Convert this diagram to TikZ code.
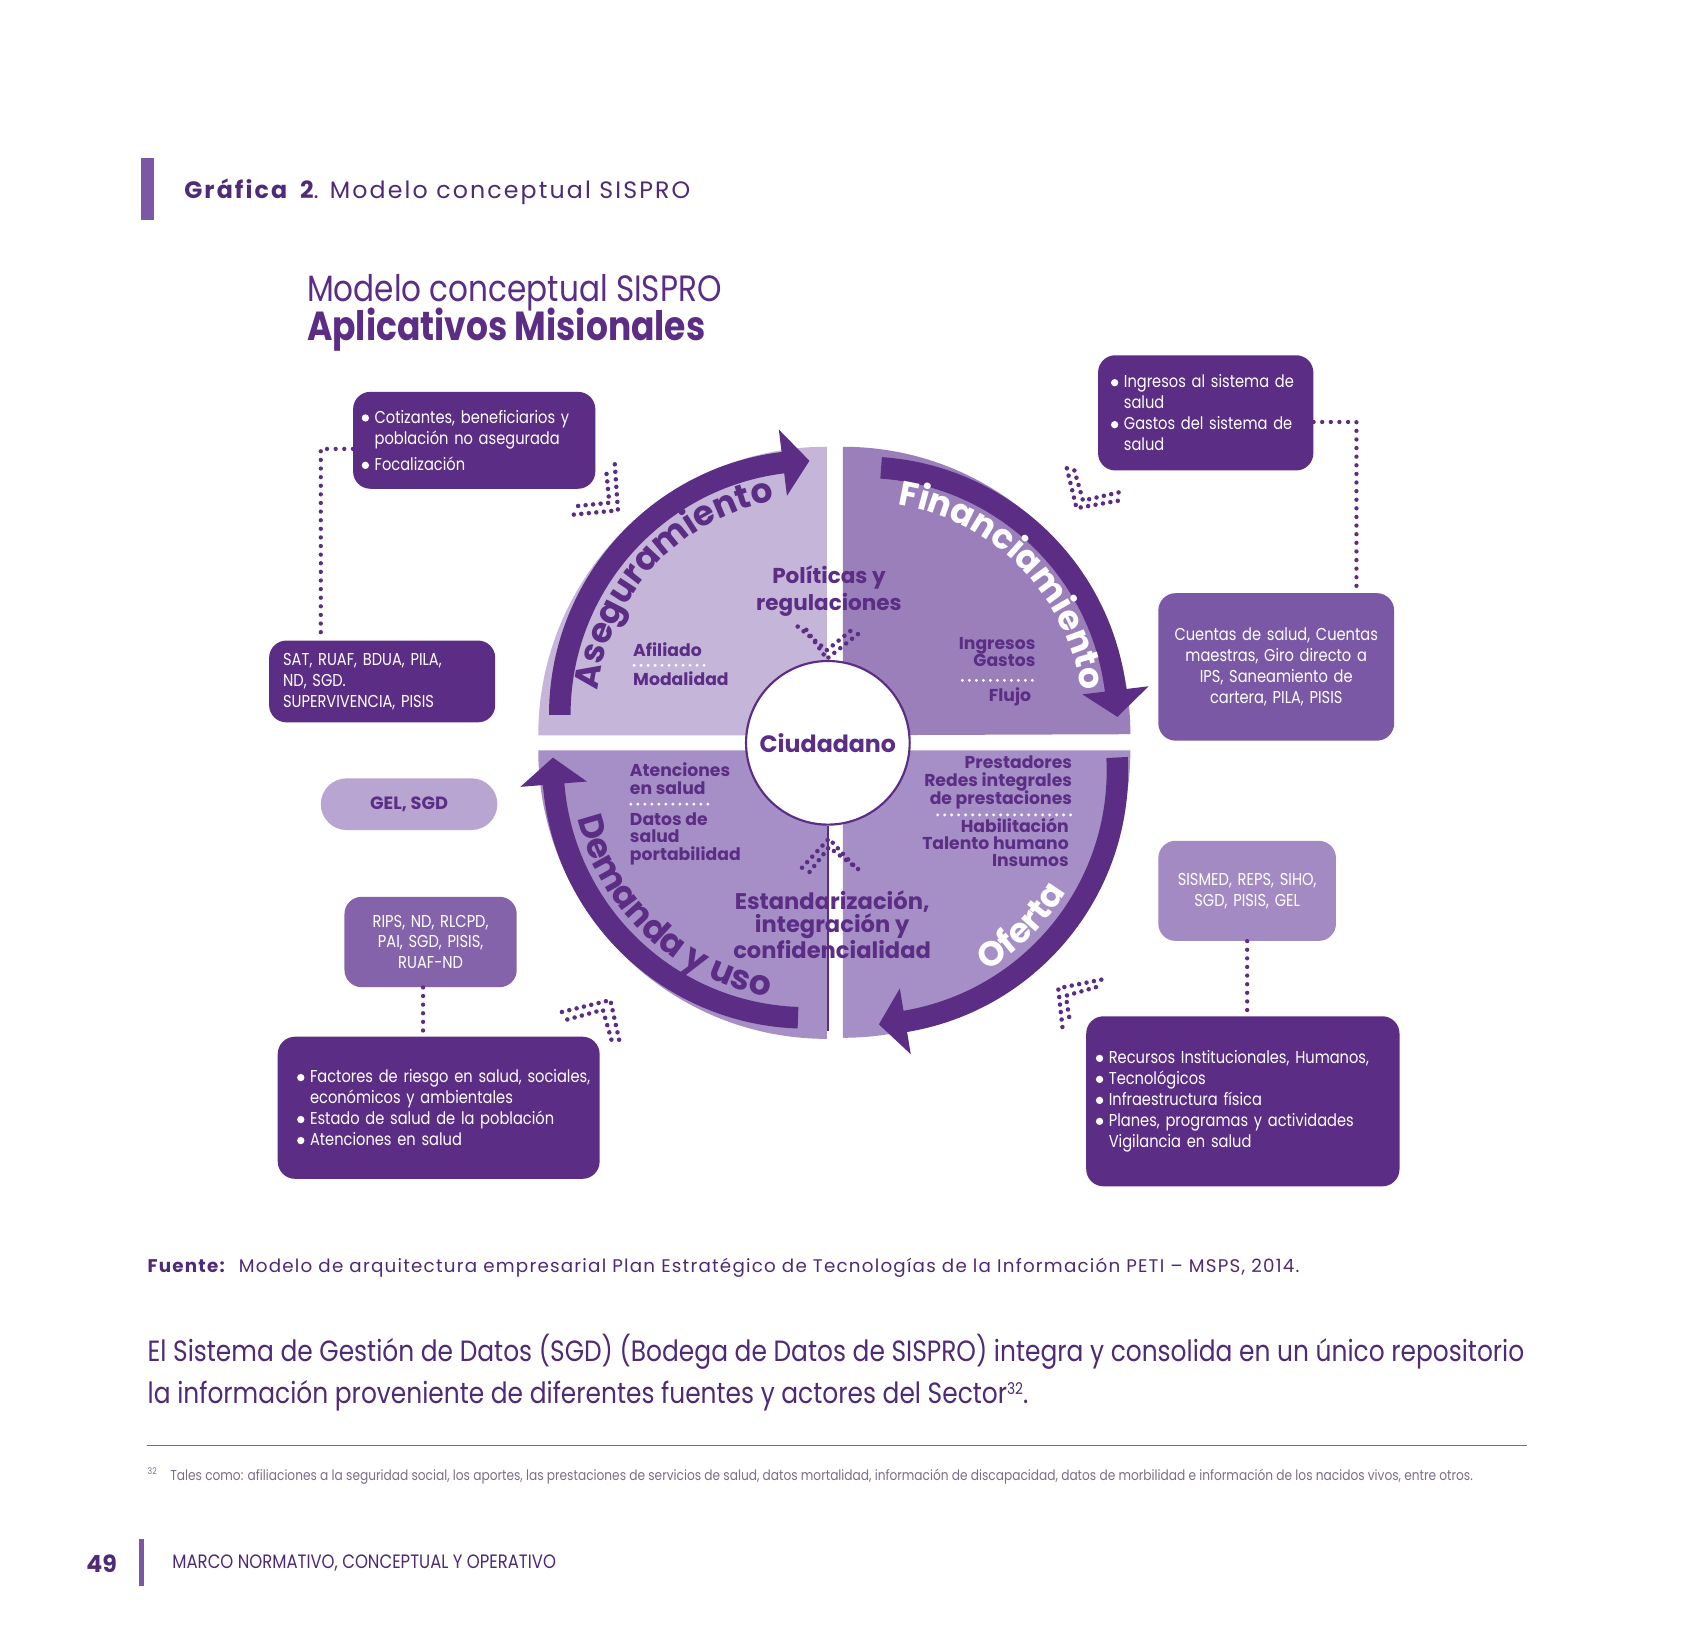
\documentclass[tikz,border=0pt]{standalone}
\usepackage{fontspec}
\setmainfont{Poppins}
\newfontfamily\cf[FakeStretch=0.85]{Poppins}
\usetikzlibrary{decorations.text}
\definecolor{dp}{HTML}{5B2D84}
\definecolor{qa}{HTML}{C4B5D9}
\definecolor{qb}{HTML}{9A7FBB}
\definecolor{qc}{HTML}{A68FC6}
\definecolor{mbox}{HTML}{7A58A5}
\definecolor{rbox}{HTML}{8563AB}
\definecolor{sbox}{HTML}{A48AC3}
\definecolor{gbox}{HTML}{B8A5D2}
\definecolor{barc}{HTML}{7B57A5}
\definecolor{tx}{HTML}{4E2A77}
\definecolor{grx}{HTML}{7A6E86}
\newcommand\bul{\makebox[12pt][l]{\tikz[baseline=0pt]\fill[white] (3.4pt,4.8pt) circle (3.4pt);}}
\newcommand\hind{\hspace*{12pt}}
% #1 x, #2 y, #3 tail angle, #4 head base angle, #5 tip angle
\newcommand\arcarrow[5]{%
  \fill[dp] ([shift={(#1,#2)}]#3:246) arc[start angle=#3, end angle=#4, radius=246]
    -- ([shift={(#1,#2)}]#4:267) -- ([shift={(#1,#2)}]#5:236) -- ([shift={(#1,#2)}]#4:205)
    -- ([shift={(#1,#2)}]#4:226) arc[start angle=#4, end angle=#3, radius=226] -- cycle;}
\tikzset{
  box/.style={rounded corners=16pt, text=white, inner sep=0pt,
    font=\cf\fontsize{16}{19.5}\selectfont},
  dbox/.style={box, fill=dp},
  dotc/.style={draw=dp, line width=4pt, line cap=round, dash pattern=on 0pt off 8pt},
  chv/.style={draw=dp, line width=4.2pt, line cap=round, dash pattern=on 0pt off 7pt},
  wsep/.style={draw=white, line width=3pt, line cap=round, dash pattern=on 0pt off 6.5pt},
  ql/.style={inner sep=0pt, text=dp, font=\bfseries\fontsize{16}{16.5}\selectfont},
  lbl/.style={inner sep=0pt, anchor=base west}
}
\begin{document}
\begin{tikzpicture}[x=1pt,y=1pt]
\useasboundingbox (0,0) rectangle (1568,-1521);
\fill[white] (0,0) rectangle (1568,-1521);

% ---- heading
\fill[barc] (131,-147) rectangle (143,-204);
\node[lbl, text=tx] (head) at (171,-184) {\fontsize{22}{22}\selectfont\addfontfeature{LetterSpace=9}\textbf{Gráfica}\hspace{10pt}\textbf{2}. Modelo conceptual SISPRO};
\node[lbl, text=dp] (sub1) at (285,-280) {\cf\fontsize{34}{34}\selectfont Modelo conceptual SISPRO};
\node[lbl, text=dp] (sub2) at (285,-316) {\cf\bfseries\fontsize{37.7}{37.7}\selectfont Aplicativos Misionales};

% ---- quadrants
\fill[qa] (768,-683) -- ++(-268,0) arc[start angle=180, end angle=90, radius=268] -- cycle;
\fill[qb] (783,-683) -- ++(0,268) arc[start angle=90, end angle=0, radius=267] -- cycle;
\fill[qc] (768,-697) -- ++(0,-268) arc[start angle=270, end angle=180, radius=268] -- cycle;
\fill[qc] (783,-697) -- ++(267,0) arc[start angle=0, end angle=-90, radius=267] -- cycle;

% ---- arrows
\arcarrow{756}{-664}{180}{97}{91}
\arcarrow{802}{-670}{86}{7}{1}
\arcarrow{802}{-716}{3}{-80.5}{-86.5}
\arcarrow{749.5}{-709.5}{268}{184.6}{178.6}

% ---- arc texts
\path[decorate, decoration={text along path, text align=center,
  text={|\bfseries\fontsize{32}{32}\selectfont\color{dp}|Aseguramiento}}]
  ([shift={(756,-664)}]190:202) arc[start angle=190, end angle=84, radius=202];
\path[decorate, decoration={text along path, text align=center,
  text={|\bfseries\fontsize{32}{32}\selectfont\color{white}|Financiamiento}}]
  ([shift={(802,-670)}]99:204) arc[start angle=99, end angle=-10, radius=204];
\path[decorate, decoration={text along path, text align=center,
  text={|\bfseries\fontsize{32}{32}\selectfont\color{white}|Oferta}}]
  ([shift={(802,-716)}]-104:219) arc[start angle=-104, end angle=15, radius=219];
\path[decorate, decoration={text along path, text align=center,
  text={|\bfseries\fontsize{32}{32}\selectfont\color{dp}|Demanda y uso}}]
  ([shift={(749.5,-709.5)}]165:219) arc[start angle=165, end angle=289, radius=219];

% ---- center
\node[circle, draw=dp, line width=2pt, fill=white, minimum size=152pt, inner sep=0pt,
  text=dp, font=\bfseries\fontsize{22}{22}\selectfont] (ciu) at (769,-690) {Ciudadano};
\coordinate (lineend) at (769,-958);
\draw[dp, line width=2pt] (ciu.south) -- (lineend);

% ---- inner labels
\node[ql, align=center, font=\bfseries\fontsize{20}{25}\selectfont] (pol) at (770,-549) {Políticas y\\regulaciones};
\node[ql, anchor=base west] (afi) at (588,-610) {Afiliado};
\node[ql, anchor=base west] (mod) at (588,-637) {Modalidad};
\node[ql, anchor=base east] (ing) at (962,-603) {Ingresos};
\node[ql, anchor=base east] (gas) at (962,-619) {Gastos};
\node[ql, anchor=base east] (flu) at (958,-652) {Flujo};
\node[ql, anchor=base west] (ate) at (585,-721) {Atenciones};
\node[ql, anchor=base west] (ens) at (585,-738) {en salud};
\node[ql, anchor=base west] (dat) at (585,-767) {Datos de};
\node[ql, anchor=base west] (sal) at (585,-783) {salud};
\node[ql, anchor=base west] (por) at (585,-799) {portabilidad};
\node[ql, anchor=base east] (pre) at (996,-714) {Prestadores};
\node[ql, anchor=base east] (red) at (996,-731) {Redes integrales};
\node[ql, anchor=base east] (dep) at (996,-747) {de prestaciones};
\node[ql, anchor=base east] (hab) at (993,-773) {Habilitación};
\node[ql, anchor=base east] (tal) at (993,-789) {Talento humano};
\node[ql, anchor=base east] (ins) at (993,-805) {Insumos};
\node[ql, align=center, font=\bfseries\fontsize{21}{21.5}\selectfont] (est) at (773,-859) {Estandarización,\\integración y\\confidencialidad};

% white separators
\draw[wsep] (589,-618) -- (655,-618);
\draw[wsep] (894,-632) -- (962,-632);
\draw[wsep] (586,-747) -- (660,-747);
\draw[wsep] (871,-757) -- (995,-757);

% inner chevrons
\draw[chv] (741,-582) -- (768,-604) -- (795,-582);
\draw[chv] (749,-585) -- (768,-612) -- (802,-585);
\draw[chv] (745,-806) -- (770,-779) -- (795,-806);
\draw[chv] (752,-810) -- (770,-787) -- (802,-811);

% outer chevrons
\draw[chv] (533,-478) -- (574,-474) -- (571,-430);
\draw[chv] (537,-470) -- (566,-467) -- (563,-436);
\draw[chv] (991,-435) -- (1000,-472) -- (1045,-464);
\draw[chv] (998,-437) -- (1006,-465) -- (1041,-457);
\draw[chv] (522,-940) -- (567,-929) -- (576,-970);
\draw[chv] (527,-947) -- (560,-938) -- (568,-966);
\draw[chv] (1023,-910) -- (983,-918) -- (987,-955);
\draw[chv] (1018,-917) -- (990,-925) -- (994,-950);

% ---- boxes
\node[dbox, minimum width=225pt, minimum height=90pt, text width=209pt, align=left] (b1) at (440.5,-409)
  {\bul Cotizantes, beneficiarios y\\\hind población no asegurada\\[5pt]\bul Focalización};
\node[dbox, minimum width=210pt, minimum height=76pt, text width=184pt, align=left] (b2) at (355,-633)
  {SAT, RUAF, BDUA, PILA,\\ND, SGD.\\SUPERVIVENCIA, PISIS};
\node[dbox, minimum width=200pt, minimum height=107pt, text width=176pt, align=left] (b3) at (1120,-383.5)
  {\bul Ingresos al sistema de\\\hind salud\\\bul Gastos del sistema de\\\hind salud};
\node[box, fill=mbox, minimum width=219pt, minimum height=137pt, text width=205pt, align=center] (b4) at (1185.5,-619.5)
  {Cuentas de salud, Cuentas\\maestras, Giro directo a\\IPS, Saneamiento de\\cartera, PILA, PISIS};
\node[box, fill=gbox, rounded corners=24pt, minimum width=164pt, minimum height=48pt, text=dp,
  font=\bfseries\fontsize{16.5}{16.5}\selectfont] (b5) at (380,-747) {GEL, SGD};
\node[box, fill=rbox, minimum width=160pt, minimum height=84pt, text width=150pt, align=center] (b6) at (400,-875)
  {RIPS, ND, RLCPD,\\PAI, SGD, PISIS,\\RUAF-ND};
\node[dbox, minimum width=299pt, minimum height=132pt, text width=263pt, align=left] (b7) at (407.5,-1029)
  {\mbox{\bul Factores de riesgo en salud, sociales,}\\\hind económicos y ambientales\\\bul Estado de salud de la población\\\bul Atenciones en salud};
\node[box, fill=sbox, minimum width=165pt, minimum height=93pt, text width=160pt, align=center] (b8) at (1158.5,-827.5)
  {SISMED, REPS, SIHO,\\SGD, PISIS, GEL};
\node[dbox, minimum width=291pt, minimum height=158pt, text width=273pt, align=left] (b9) at (1154.5,-1023)
  {\bul Recursos Institucionales, Humanos,\\\bul Tecnológicos\\\bul Infraestructura física\\\bul Planes, programas y actividades\\\hind Vigilancia en salud};

% ---- dotted connectors
\draw[dotc] ([yshift=-8pt]b1.west) -| ([xshift=-57pt]b2.north);
\draw[dotc] ([yshift=-8.5pt]b3.east) -| ([xshift=74.5pt]b4.north);
\draw[dotc] ([xshift=-7pt]b6.south) -- ([xshift=-7pt]b6.south |- b7.north);
\draw[dotc] (b8.south) -- (b8.south |- b9.north);

% ---- source, paragraph, footnote, footer
\node[lbl, text=tx] (src) at (137,-1182) {\fontsize{17}{17}\selectfont\addfontfeature{LetterSpace=6.6}\textbf{Fuente:}\hspace{12pt}Modelo de arquitectura empresarial Plan Estratégico de Tecnologías de la Información PETI – MSPS, 2014.};
\node[lbl, text=tx] (par1) at (137,-1265) {\cf\fontsize{27.2}{27.2}\selectfont El Sistema de Gestión de Datos (SGD) (Bodega de Datos de SISPRO) integra y consolida en un único repositorio};
\node[lbl, text=tx] (par2) at (137,-1304) {\cf\fontsize{27.2}{27.2}\selectfont la información proveniente de diferentes fuentes y actores del Sector\raisebox{9pt}{\fontsize{15}{15}\selectfont 32}.};
\draw[draw=grx, line width=1.2pt] (137,-1343) -- (1418,-1343);
\node[lbl, text=grx] (fnm) at (137,-1370) {\cf\fontsize{8.5}{8.5}\selectfont 32};
\node[lbl, text=grx] (fnt) at (158,-1375) {\cf\fontsize{13.3}{13.3}\selectfont Tales como: afiliaciones a la seguridad social, los aportes, las prestaciones de servicios de salud, datos mortalidad, información de discapacidad, datos de morbilidad e información de los nacidos vivos, entre otros.};
\node[lbl, text=tx] (pg) at (80,-1461) {\bfseries\fontsize{22}{22}\selectfont 49};
\fill[barc] (129,-1430) rectangle (134,-1473);
\node[lbl, text=tx] (foot) at (160,-1457) {\cf\fontsize{18}{18}\selectfont MARCO NORMATIVO, CONCEPTUAL Y OPERATIVO};
\end{tikzpicture}
\end{document}
